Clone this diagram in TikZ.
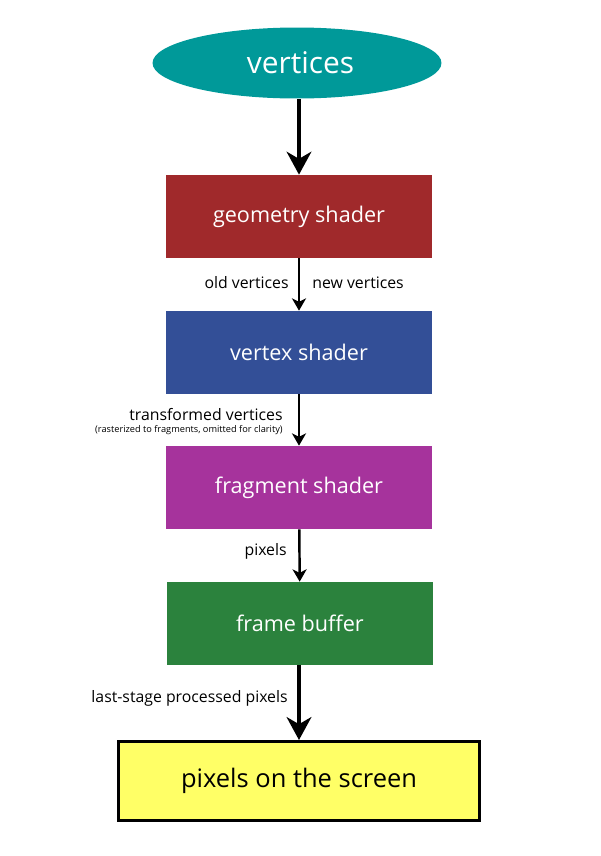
\documentclass[tikz,border=0pt]{standalone}
\usepackage{fontspec}
\setmainfont{Open Sans}
\usetikzlibrary{arrows.meta,shapes.geometric,positioning}
\definecolor{vertcol}{HTML}{009999}
\definecolor{geomcol}{HTML}{A0292B}
\definecolor{vertexcol}{HTML}{334F97}
\definecolor{fragcol}{HTML}{A6339C}
\definecolor{framecol}{HTML}{2B823D}
\definecolor{screencol}{HTML}{FFFF66}

\begin{document}
\begin{tikzpicture}[x=0.02cm,y=-0.02cm]
\tikzstyle{stage}=[rectangle,minimum width=5.34cm,minimum height=1.66cm,inner sep=0pt,
  text=white,font=\fontsize{12.3}{15}\selectfont]
\tikzstyle{bigflow}=[line width=2.3pt,-{Stealth[length=13pt,width=14pt,inset=4pt]}]
\tikzstyle{flow}=[line width=1.4pt,-{Stealth[length=7pt,width=8pt,inset=2pt]}]
\tikzstyle{lbl}=[font=\fontsize{9}{11}\selectfont,inner sep=0pt]

\useasboundingbox (0,0) rectangle (600,856);

% pipeline stages
\node[ellipse,fill=vertcol,minimum width=5.78cm,minimum height=1.42cm,inner sep=0pt,
  text=white,font=\fontsize{17}{20}\selectfont] (vertices) at (297,63) {\hspace{4pt}vertices};
\node[stage,fill=geomcol] (geom) at (299,216.5) {geometry shader};
\node[stage,fill=vertexcol] (vert) at (299,352.5) {vertex shader};
\node[stage,fill=fragcol] (frag) at (299,487.5) {fragment shader};
\node[stage,fill=framecol] (frame) at (300,623.5) {frame buffer};
\node[rectangle,draw=black,line width=1.7pt,fill=screencol,minimum width=7.22cm,
  minimum height=1.58cm,inner sep=0pt,font=\fontsize{14.5}{17}\selectfont]
  (screen) at (299,781) {pixels on the screen};

% connectors
\draw[bigflow] (vertices.south -| geom.north) -- (geom.north);
\draw[flow] (geom) -- (vert);
\draw[flow] (vert) -- (frag);
\draw[flow] (frag) -- (frame);
\draw[bigflow] (frame.south -| screen.north) -- (screen.north);

% labels
\node[lbl,anchor=east] (oldv) at (289,283) {old vertices};
\node[lbl,anchor=west] (newv) at (312,283) {new vertices};
\node[lbl,anchor=base east] (transv) at (283,420) {transformed vertices};
\node[lbl,anchor=base east,font=\fontsize{5.25}{6}\selectfont] (rast) at (283,432)
  {(rasterized to fragments, omitted for clarity)};
\node[lbl,anchor=east] (pix) at (287,551) {pixels};
\node[lbl,anchor=east] (lastpix) at (288,698) {last-stage processed pixels};
\end{tikzpicture}
\end{document}
